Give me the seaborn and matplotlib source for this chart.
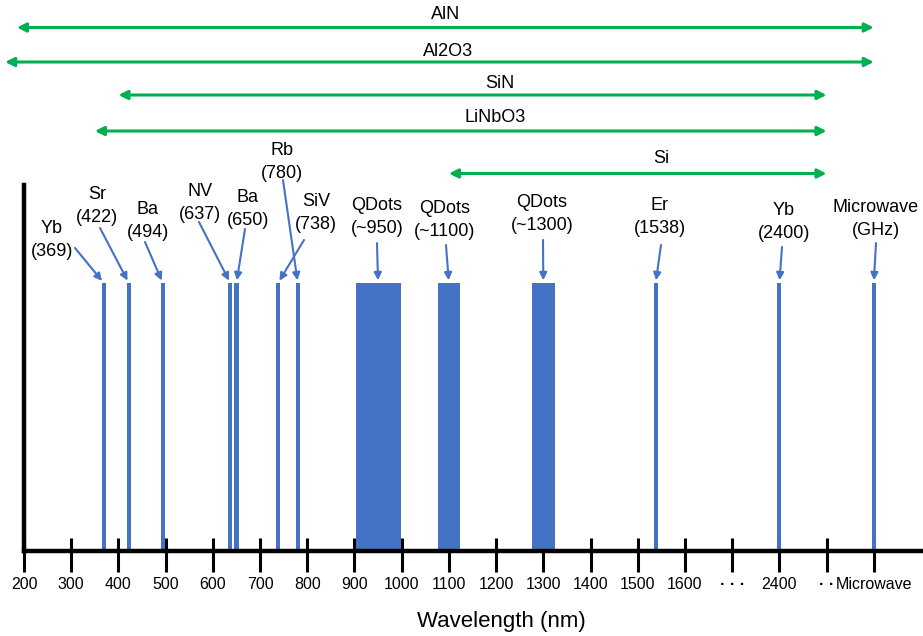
import numpy as np
import matplotlib
matplotlib.use("Agg")
import matplotlib.pyplot as plt
import matplotlib.transforms as mtransforms
import seaborn as sns

# ---------------------------------------------------------------------------
# Emitters / transitions placed on the wavelength axis
species = ["Yb", "Sr", "Ba", "NV", "Ba", "Rb", "SiV",
           "QDots", "QDots", "QDots", "Er", "Yb", "Microwave"]
wavelength_text = ["369", "422", "494", "637", "650", "780", "738",
                   "~950", "~1100", "~1300", "1538", "2400", "GHz"]
wavelength_nm = [369, 422, 494, 637, 650, 780, 738,
                 950, 1100, 1300, 1538, 2400, "Microwave"]
band_width_nm = [9, 9, 9, 9, 9, 9, 9, 95, 48, 48, 9, 9, 9]
relative_height = [1, 1, 1, 1, 1, 1, 1, 1, 1, 1, 1, 1, 1]

# Transparency windows of photonic materials (start in nm, end on a tick slot)
materials = ["AlN", "Al2O3", "SiN", "LiNbO3", "Si"]
material_from_nm = [185, 160, 400, 350, 1100]
material_to = ["Microwave", "Microwave", "· ·", "· ·", "· ·"]

# Broken wavelength axis: linear up to 1600 nm, then one slot per entry
tick_labels = ["200", "300", "400", "500", "600", "700", "800", "900",
               "1000", "1100", "1200", "1300", "1400", "1500", "1600",
               "· · ·", "2400", "· ·", "Microwave"]

# ---------------------------------------------------------------------------
tick_pos = [200 + 100 * i for i in range(len(tick_labels))]


def axis_x(value):
    """Position on the broken axis for a wavelength (nm) or a slot name."""
    if isinstance(value, str) or value > 1600:
        return tick_pos[tick_labels.index(str(value))]
    return value


BLUE = "#4472C4"
GREEN = "#00B050"
W, H = 923, 636

sns.set_theme(style="white")
plt.rcParams["font.family"] = ["Liberation Sans", "DejaVu Sans"]
plt.rcParams["text.color"] = "black"

fig = plt.figure(figsize=(W / 100, H / 100), dpi=100, facecolor="white")
ax = fig.add_axes([24 / W, 1 - 551 / H, 897 / W, 366 / H])

# spectral lines / bands as bars on the native numeric scale
bar_x = [axis_x(v) for v in wavelength_nm]
for xpos, h, w in zip(bar_x, relative_height, band_width_nm):
    sns.barplot(x=[xpos], y=[h], native_scale=True, orient="x", width=w,
                color=BLUE, saturation=1, errorbar=None, linewidth=0, ax=ax)

ax.set_xlim(200, 2100)
ax.set_ylim(0, 1.366)

# axes styling
for side in ("top", "right"):
    ax.spines[side].set_visible(False)
for side in ("left", "bottom"):
    ax.spines[side].set_color("black")
    ax.spines[side].set_linewidth(3.2)

ax.set_yticks([])
ax.set_xticks(tick_pos)
ax.set_xticklabels(tick_labels)
ax.set_xticks(tick_pos, minor=True)
ax.xaxis.remove_overlapping_locs = False
ax.tick_params(axis="x", which="major", direction="out", length=15, width=2.2,
               color="black", pad=4, labelsize=11.5, labelcolor="black", bottom=True)
ax.tick_params(axis="x", which="minor", direction="in", length=9.4, width=2.2,
               color="black", bottom=True)
for lbl in ax.get_xticklabels():
    if lbl.get_text().startswith("·"):
        lbl.set_fontweight("bold")

ax.set_xlabel("Wavelength (nm)", fontsize=16, color="black")
ax.xaxis.set_label_coords((501 - 24) / 897, -(611 - 551) / 366)

# ion / emitter labels with arrows pointing at their lines
label_xy_px = [(52, 240), (97, 206), (148, 221), (200, 203), (248, 209),
               (282, 162), (316, 213), (377, 217), (445, 220), (542, 214),
               (660, 217), (784, 222), (876, 219)]
arrow_start_px = [(75, 248), (100, 228), (145, 242), (199, 222), (245, 229),
                  (283, 180), (304, 240), (377, 243), (446, 245), (543, 240),
                  (661, 245), (782, 247), (876, 243)]

for name, txt, (lx, ly), (sx, sy), xpos, h in zip(
        species, wavelength_text, label_xy_px, arrow_start_px, bar_x, relative_height):
    fig.text(lx / W, 1 - ly / H, f"{name}\n({txt})", ha="center", va="center",
             fontsize=13, linespacing=1.45, color="black")
    ax.annotate("", xy=(xpos, h), xycoords="data",
                xytext=(sx / W, 1 - sy / H), textcoords="figure fraction",
                arrowprops=dict(arrowstyle="-|>", color=BLUE, lw=1.5,
                                mutation_scale=11, shrinkA=0, shrinkB=2),
                annotation_clip=False)

# material transparency windows
trans = mtransforms.blended_transform_factory(ax.transData, fig.transFigure)
material_arrow_y_px = [27.5, 62, 95, 131, 173.5]
material_label_y_px = [14.5, 51, 84, 118, 158]
material_label_x = [1094, 1098, 1208, 1198, 1549]

for name, x0, x1, ay, ly, lx in zip(materials, material_from_nm, material_to,
                                   material_arrow_y_px, material_label_y_px,
                                   material_label_x):
    ax.annotate("", xy=(axis_x(x1), 1 - ay / H), xycoords=trans,
                xytext=(axis_x(x0), 1 - ay / H), textcoords=trans,
                arrowprops=dict(arrowstyle="<|-|>", color=GREEN, lw=2.2,
                                mutation_scale=13, shrinkA=0, shrinkB=0),
                annotation_clip=False)
    ax.text(lx, 1 - ly / H, name, transform=trans, ha="center", va="center",
            fontsize=13, color="black")

fig.savefig("out.png", dpi=100, facecolor="white")
